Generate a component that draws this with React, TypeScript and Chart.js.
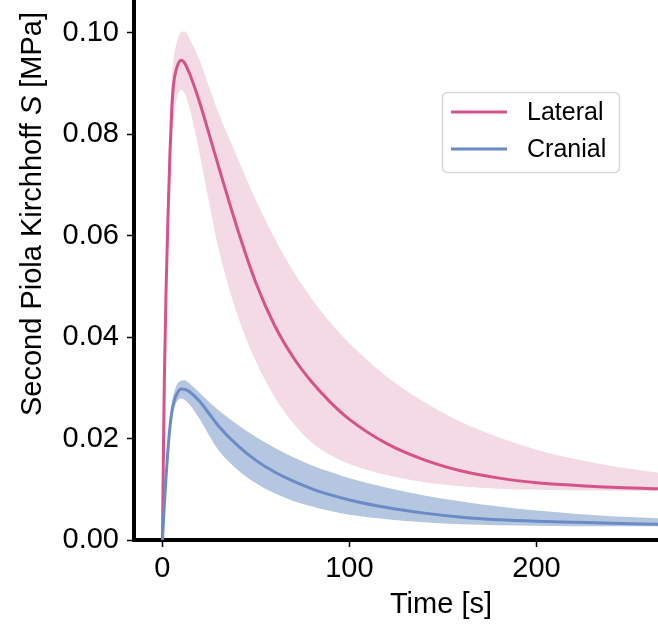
import React, { useEffect, useRef } from "react";
import { Chart, registerables } from "chart.js";

Chart.register(...registerables);

const FONT = '"Liberation Sans", Arial, Helvetica, sans-serif';

const times = [0, 1, 2, 3, 4, 5, 6, 8, 10, 12, 15, 20, 25, 30, 40, 50, 60, 70, 80, 90, 100, 120, 140, 160, 180, 200, 220, 240, 265];

const lateralMean = [0, 0.031, 0.050, 0.064, 0.076, 0.085, 0.090, 0.0935, 0.0946, 0.0940, 0.0915, 0.0862, 0.0800, 0.0737, 0.0615, 0.0507, 0.0423, 0.0360, 0.0311, 0.0271, 0.0238, 0.0190, 0.0158, 0.0136, 0.0122, 0.0113, 0.0108, 0.0104, 0.0101];
const lateralUpper = [0, 0.034, 0.056, 0.071, 0.083, 0.091, 0.095, 0.0985, 0.1002, 0.1003, 0.0985, 0.0945, 0.0893, 0.0842, 0.0755, 0.0670, 0.0595, 0.0530, 0.0475, 0.0428, 0.0388, 0.0322, 0.0272, 0.0232, 0.0202, 0.0178, 0.0160, 0.0146, 0.0133];
const lateralLower = [0, 0.028, 0.045, 0.059, 0.070, 0.078, 0.083, 0.0875, 0.0888, 0.0880, 0.0845, 0.0760, 0.0665, 0.0575, 0.0445, 0.0352, 0.0282, 0.0230, 0.0192, 0.0167, 0.0150, 0.0128, 0.0114, 0.0106, 0.0101, 0.0099, 0.0098, 0.0097, 0.0097];

const cranialMean = [0, 0.0068, 0.0128, 0.0180, 0.0222, 0.0252, 0.0271, 0.0290, 0.0298, 0.0297, 0.0291, 0.0273, 0.0249, 0.0225, 0.0187, 0.0157, 0.0134, 0.0116, 0.0101, 0.0089, 0.0079, 0.0064, 0.0053, 0.0045, 0.0040, 0.0037, 0.0035, 0.0033, 0.0031];
const cranialUpper = [0, 0.0072, 0.0138, 0.0193, 0.0237, 0.0268, 0.0288, 0.0308, 0.0314, 0.0315, 0.0307, 0.0290, 0.0272, 0.0256, 0.0228, 0.0203, 0.0182, 0.0163, 0.0147, 0.0134, 0.0122, 0.0103, 0.0088, 0.0076, 0.0066, 0.0058, 0.0052, 0.0047, 0.0043];
const cranialLower = [0, 0.0064, 0.0120, 0.0168, 0.0207, 0.0236, 0.0256, 0.0274, 0.0279, 0.0276, 0.0265, 0.0238, 0.0206, 0.0177, 0.0139, 0.0112, 0.0092, 0.0077, 0.0066, 0.0057, 0.0050, 0.0041, 0.0035, 0.0031, 0.0029, 0.0028, 0.0027, 0.0027, 0.0027];

const xTicks = [0, 100, 200];
const yTicks = [0, 0.02, 0.04, 0.06, 0.08, 0.1];

const seriesNames = ["Lateral", "Cranial"];
const xTitle = "Time [s]";
const yTitleParts = ["Second Piola Kirchhoff ", "S", " [MPa]"];

const LAT_LINE = "#d6538a";
const LAT_BAND = "#f4dae4";
const CRA_LINE = "#6a8bc6";
const CRA_BAND = "#b4c6e0";

const pts = (ys: number[]) => times.map((t, i) => ({ x: t, y: ys[i] }));

const overlay = {
  id: "overlay",
  afterDraw(chart: any) {
    const ctx = chart.ctx as CanvasRenderingContext2D;
    ctx.save();
    ctx.fillStyle = "#000";
    ctx.font = `29px ${FONT}`;
    ctx.textAlign = "center";
    ctx.textBaseline = "middle";
    ctx.fillText(xTitle, 441, 605);

    const normal = `29px ${FONT}`;
    const italic = `italic 29px ${FONT}`;
    const fonts = [normal, italic, normal];
    let total = 0;
    const widths = yTitleParts.map((p, i) => {
      ctx.font = fonts[i];
      const w = ctx.measureText(p).width;
      total += w;
      return w;
    });
    ctx.translate(33, 214);
    ctx.rotate(-Math.PI / 2);
    ctx.textAlign = "left";
    let x = -total / 2;
    yTitleParts.forEach((p, i) => {
      ctx.font = fonts[i];
      ctx.fillText(p, x, 0);
      x += widths[i];
    });
    ctx.restore();

    ctx.save();
    const bx = 442.5, by = 92.5, bw = 177, bh = 80, r = 5;
    ctx.beginPath();
    ctx.moveTo(bx + r, by);
    ctx.arcTo(bx + bw, by, bx + bw, by + bh, r);
    ctx.arcTo(bx + bw, by + bh, bx, by + bh, r);
    ctx.arcTo(bx, by + bh, bx, by, r);
    ctx.arcTo(bx, by, bx + bw, by, r);
    ctx.closePath();
    ctx.fillStyle = "rgba(255,255,255,0.8)";
    ctx.fill();
    ctx.strokeStyle = "#d6d6d6";
    ctx.lineWidth = 1.5;
    ctx.stroke();
    const colors = [LAT_LINE, CRA_LINE];
    const ys = [112, 149];
    ctx.font = `25px ${FONT}`;
    ctx.textAlign = "left";
    ctx.textBaseline = "middle";
    seriesNames.forEach((name, i) => {
      ctx.strokeStyle = colors[i];
      ctx.lineWidth = 3;
      ctx.beginPath();
      ctx.moveTo(451, ys[i]);
      ctx.lineTo(507, ys[i]);
      ctx.stroke();
      ctx.fillStyle = "#000";
      ctx.fillText(name, 527, ys[i] + 1);
    });
    ctx.restore();
  },
};

export default function App() {
  const ref = useRef<HTMLCanvasElement | null>(null);
  useEffect(() => {
    if (!ref.current) return;
    const common = {
      pointRadius: 0,
      pointHoverRadius: 0,
      cubicInterpolationMode: "monotone" as const,
      tension: 0.4,
    };
    const chart = new Chart(ref.current, {
      type: "line",
      data: {
        datasets: [
          { ...common, label: "Lateral upper", data: pts(lateralUpper), borderWidth: 0, borderColor: "rgba(0,0,0,0)", backgroundColor: LAT_BAND, fill: "+1", order: 6 },
          { ...common, label: "Lateral lower", data: pts(lateralLower), borderWidth: 0, borderColor: "rgba(0,0,0,0)", fill: false, order: 6 },
          { ...common, label: "Cranial upper", data: pts(cranialUpper), borderWidth: 0, borderColor: "rgba(0,0,0,0)", backgroundColor: CRA_BAND, fill: "+1", order: 5 },
          { ...common, label: "Cranial lower", data: pts(cranialLower), borderWidth: 0, borderColor: "rgba(0,0,0,0)", fill: false, order: 5 },
          { ...common, label: seriesNames[0], data: pts(lateralMean), borderWidth: 3, borderColor: LAT_LINE, fill: false, order: 2 },
          { ...common, label: seriesNames[1], data: pts(cranialMean), borderWidth: 3, borderColor: CRA_LINE, fill: false, order: 1 },
        ],
      },
      options: {
        animation: false,
        responsive: true,
        maintainAspectRatio: false,
        layout: { padding: 0 },
        plugins: { legend: { display: false }, title: { display: false }, tooltip: { enabled: false } },
        events: [],
        scales: {
          x: {
            type: "linear",
            min: -15.2,
            max: 265,
            afterBuildTicks: (s: any) => { s.ticks = xTicks.map((v) => ({ value: v })); },
            afterFit: (s: any) => { s.height = 96; s.paddingLeft = 0; s.paddingRight = 0; },
            grid: { display: true, drawOnChartArea: false, drawTicks: true, tickLength: 7, tickWidth: 1.5, tickColor: "#000" },
            border: { display: true, width: 4, color: "#000" },
            ticks: { color: "#000", font: { size: 29, family: FONT }, padding: 5, maxRotation: 0, autoSkip: false, callback: (v: any) => String(v) },
          },
          y: {
            type: "linear",
            min: 0,
            max: 0.1065,
            afterBuildTicks: (s: any) => { s.ticks = yTicks.map((v) => ({ value: v })); },
            afterFit: (s: any) => { s.width = 134; s.paddingTop = 0; s.paddingBottom = 0; },
            grid: { display: true, drawOnChartArea: false, drawTicks: true, tickLength: 7, tickWidth: 1.5, tickColor: "#000" },
            border: { display: true, width: 4, color: "#000" },
            ticks: { color: "#000", font: { size: 29, family: FONT }, padding: 8, autoSkip: false, callback: (v: any) => Number(v).toFixed(2) },
          },
        },
      },
      plugins: [overlay],
    });
    return () => chart.destroy();
  }, []);
  return (
    <div style={{ position: "absolute", left: 0, top: 0, width: 658, height: 636, background: "#fff" }}>
      <canvas ref={ref} />
    </div>
  );
}
